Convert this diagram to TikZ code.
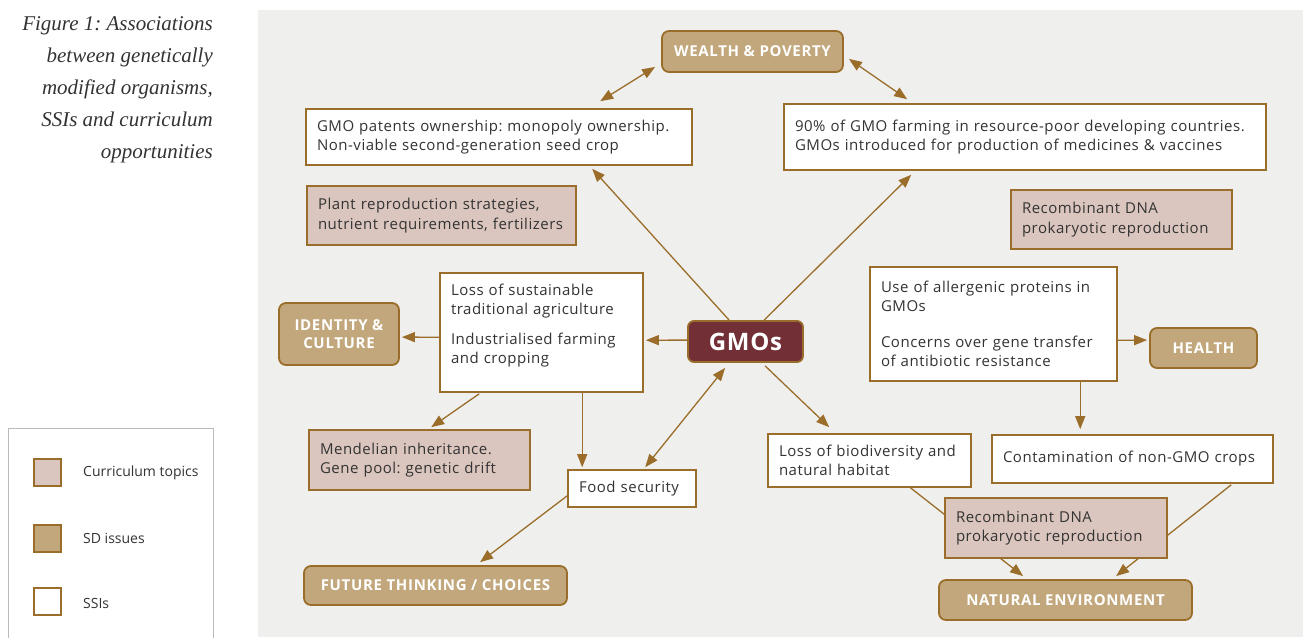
\documentclass[tikz,border=0pt]{standalone}
\usepackage{fontspec}
\setmainfont{Open Sans}
\newfontfamily\capfont{Liberation Serif}
\usetikzlibrary{arrows.meta,calc}
\definecolor{brn}{HTML}{9A6E2A}
\definecolor{sdfill}{HTML}{C1A77B}
\definecolor{curfill}{HTML}{DAC6BE}
\definecolor{gmofill}{HTML}{722F35}
\definecolor{txt}{HTML}{333333}
\definecolor{panel}{HTML}{EFEFED}
\definecolor{legline}{HTML}{BBBBBB}
\frenchspacing
\tikzset{
  box/.style={draw=brn, line width=1.6pt, align=left, text=txt, inner xsep=11pt, inner ysep=4pt,
    font=\fontsize{15}{19.5}\selectfont\addfontfeatures{LetterSpace=3.5}},
  ssi/.style={box, fill=white},
  cur/.style={box, fill=curfill},
  sd/.style={draw=brn, line width=1.8pt, fill=sdfill, rounded corners=7pt, text=white, align=center,
    font=\fontsize{15}{18}\selectfont\bfseries\addfontfeatures{LetterSpace=4.5}},
  arr/.style={draw=brn, line width=1.3pt, -{Triangle[length=13pt,width=10pt]}},
  darr/.style={draw=brn, line width=1.3pt, {Triangle[length=13pt,width=10pt]}-{Triangle[length=13pt,width=10pt]}},
  legsq/.style={draw=brn, line width=1.8pt, minimum size=27pt, inner sep=0pt},
  legtxt/.style={anchor=west, text=txt, font=\fontsize{14}{16}\selectfont, inner sep=0pt}
}
\begin{document}
\begin{tikzpicture}[x=1pt,y=-1pt]
\useasboundingbox (0,0) rectangle (1303,637);
\fill[white] (0,0) rectangle (1303,637);
\fill[panel] (258,10) rectangle (1303,637);

% caption
\node[anchor=north east, inner sep=0pt, align=right, text=txt,
  font=\capfont\itshape\fontsize{21}{32}\selectfont] (cap) at (213,16)
  {Figure 1: Associations\\between genetically\\modified organisms,\\SSIs and curriculum\\opportunities};

% legend
\draw[legline, line width=1pt] (8,640) -- (8,428) -- (213,428) -- (213,640);
\node[legsq, fill=curfill] (lg1) at (47.5,472.5) {};
\node[legsq, fill=sdfill] (lg2) at (47.5,538.5) {};
\node[legsq, fill=white] (lg3) at (47.5,601.5) {};
\node[legtxt] (lt1) at (83,473) {Curriculum topics};
\node[legtxt] (lt2) at (83,538) {SD issues};
\node[legtxt] (lt3) at (83,603) {SSIs};

% nodes
\node[sd, minimum width=181pt, minimum height=41pt] (wealth) at (752.5,51.5) {WEALTH \& POVERTY};
\node[ssi, minimum height=56pt, text width=364pt] (pat) at (499,137)
  {GMO patents ownership: monopoly ownership.\\Non-viable second-generation seed crop};
\node[ssi, minimum height=66pt, text width=460pt] (ninety) at (1025,137)
  {90\% of GMO farming in resource-poor developing countries.\\GMOs introduced for production of medicines \& vaccines};
\node[cur, minimum height=59pt, text width=247pt] (plant) at (441.5,215.5)
  {Plant reproduction strategies,\\nutrient requirements, fertilizers};
\node[cur, minimum height=59pt, text width=199pt] (rdnaA) at (1121.5,219.5)
  {Recombinant DNA\\prokaryotic reproduction};
\node[sd, minimum width=120pt, minimum height=62pt] (ident) at (339,334) {IDENTITY \&\\CULTURE};
\node[ssi, minimum height=119pt, text width=181pt] (loss) at (541.5,332.5)
  {Loss of sustainable\\traditional agriculture\\[10pt]Industrialised farming\\and cropping\\[-2pt]\mbox{}};
\node[draw=brn, line width=1.8pt, fill=gmofill, rounded corners=6pt, minimum width=115pt, minimum height=41pt,
  text=white, font=\fontsize{24}{26}\selectfont\bfseries\addfontfeatures{LetterSpace=3}] (gmo) at (745.5,341.5) {GMOs};
\node[ssi, minimum height=114pt, text width=225pt] (allerg) at (993.5,324)
  {Use of allergenic proteins in\\GMOs\\[16pt]Concerns over gene transfer\\of antibiotic resistance};
\node[sd, minimum width=107pt, minimum height=40pt] (health) at (1203.5,348) {HEALTH};
\node[cur, minimum height=60pt, text width=199pt] (mendel) at (419.5,460)
  {Mendelian inheritance.\\Gene pool: genetic drift};
\node[ssi, minimum height=37pt, text width=106pt] (food) at (632,488.5) {Food security};
\node[ssi, minimum height=53pt, text width=181pt] (biodiv) at (869.5,460.5)
  {Loss of biodiversity and\\natural habitat};
\node[ssi, minimum height=48pt, text width=259pt] (contam) at (1132.5,459) {Contamination of non-GMO crops};
\node[sd, minimum width=263pt, minimum height=39pt] (future) at (435.5,585.5) {FUTURE THINKING / CHOICES};
\node[sd, minimum width=253pt, minimum height=40pt] (natural) at (1065.5,600) {NATURAL ENVIRONMENT};

% connectors
\draw[darr] ($(pat.north west)+(295,-7)$) -- ($(wealth.south west)+(-6,-6)$);
\draw[darr] ($(wealth.south east)+(5,-14)$) -- ($(ninety.north west)+(124,-4)$);
\draw[arr] ($(gmo.north west)+(42,0)$) -- ($(pat.south west)+(287,3)$);
\draw[arr] ($(gmo.north west)+(77,0)$) -- ($(ninety.south west)+(128,4)$);
\draw[arr] ($(gmo.north west)+(0,20)$) -- ($(loss.north east)+(2,68)$);
\draw[arr] ($(loss.north west)+(0,65)$) -- ($(ident.north east)+(2,35)$);
\draw[arr] ($(loss.south west)+(40,1)$) -- ($(mendel.north west)+(123,-2)$);
\draw[arr] ($(loss.south west)+(143,0)$) -- ($(food.north west)+(15,-2)$);
\draw[darr] ($(food.north west)+(78,-2)$) -- ($(gmo.south west)+(38,5)$);
\draw[arr] ($(food.south west)+(0,-12)$) -- ($(future.north west)+(177,-3)$);
\draw[arr] ($(gmo.south west)+(78,3)$) -- ($(biodiv.north west)+(62,-6)$);
\draw[arr] ($(allerg.north east)+(0,74)$) -- ($(health.north west)+(-2,13)$);
\draw[arr] ($(allerg.south west)+(211,0)$) -- ($(contam.north west)+(89,-5)$);
\draw[arr] ($(biodiv.south west)+(142,-1)$) -- ($(natural.north west)+(85,-3)$);
\draw[arr] ($(contam.south west)+(240,1)$) -- ($(natural.north west)+(178,-3)$);

% drawn over the lines
\node[cur, minimum height=60pt, text width=200pt] (rdnaB) at (1056,528)
  {Recombinant DNA\\prokaryotic reproduction};
\end{tikzpicture}
\end{document}
